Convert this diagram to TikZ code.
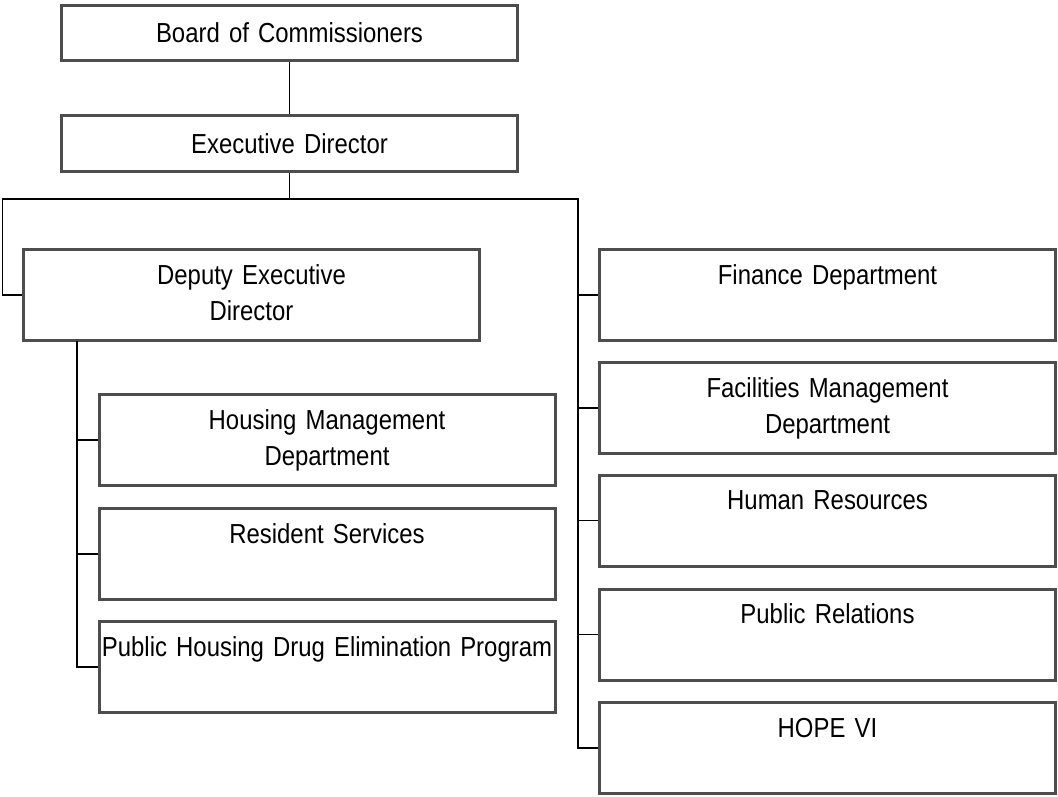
\documentclass[tikz,border=0pt]{standalone}
\usepackage{fontspec}
\setmainfont{Liberation Sans}[FakeStretch=0.87]
\definecolor{boxgray}{RGB}{77,77,77}

\begin{document}
\begin{tikzpicture}[x=1pt,y=1pt,yscale=-1,
  orgbox/.style={draw=boxgray, line width=3pt, fill=white, align=center,
    text width=456pt, inner xsep=0pt, minimum height=91pt,
    font=\fontsize{27.5}{36}\selectfont},
  topbox/.style={orgbox, minimum height=55.5pt},
  link/.style={line width=1.2pt, black}]
\useasboundingbox (0,0) rectangle (1058,796);

%Shape: Rectangle -- top of the chart
\node[topbox] (board) at (289.5,33) {Board of Commissioners};
\node[topbox] (exec) at (289.5,143.5) {Executive Director};

%Shape: Rectangle -- deputy and the units under it
\node[orgbox] (deputy) at (251.5,295) {\strut Deputy Executive\\\strut Director};
\node[orgbox] (housing) at (327,440) {\strut Housing Management\\\strut Department};
\node[orgbox] (resident) at (327,554) {\strut Resident Services\\\strut};
\node[orgbox] (drug) at (327,667) {\strut Public Housing Drug Elimination Program\\\strut};

%Shape: Rectangle -- departments
\node[orgbox] (finance) at (827.5,295) {\strut Finance Department\\\strut};
\node[orgbox] (facilities) at (827.5,408) {\strut Facilities Management\\\strut Department};
\node[orgbox] (hr) at (827.5,520.5) {\strut Human Resources\\\strut};
\node[orgbox] (pr) at (827.5,634.5) {\strut Public Relations\\\strut};
\node[orgbox] (hope) at (827.5,748) {\strut HOPE VI\\\strut};

% bus points
\coordinate (split) at (289.5,199);
\coordinate (leftbus) at (2.5,199);
\coordinate (rightbus) at (578,199);
\coordinate (subbus) at (77,340.5);

%Straight Lines
\draw[link] (board) -- (exec);
\draw[link] (exec) -- (split);
\draw[link] (deputy.west) -| (leftbus) -- (rightbus) |- (hope.west);

%Straight Lines
\draw[link] (rightbus |- finance.west) -- (finance.west);
\draw[link] (rightbus |- facilities.west) -- (facilities.west);
\draw[link] (rightbus |- hr.west) -- (hr.west);
\draw[link] (rightbus |- pr.west) -- (pr.west);

%Straight Lines
\draw[link] (subbus) |- (drug.west);
\draw[link] (subbus |- housing.west) -- (housing.west);
\draw[link] (subbus |- resident.west) -- (resident.west);

\end{tikzpicture}
\end{document}
